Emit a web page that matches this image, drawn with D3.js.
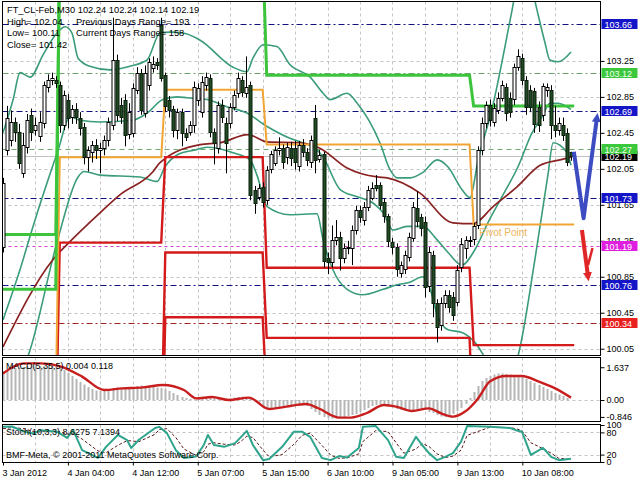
<!DOCTYPE html>
<html><head><meta charset="utf-8">
<script src="https://cdn.jsdelivr.net/npm/d3@7"></script>
<style>
body{margin:0;background:#fff}
svg{display:block}
text{font-family:"Liberation Sans",Arial,sans-serif;font-size:9px}
</style></head>
<body><svg id="c" width="640" height="480"></svg>
<script>
// ---------------- DATA ----------------
const opens=[101.18,102.26,102.37,102.57,102.46,102.01,102.29,102.65,102.48,102.41,102.56,102.96,103.04,103.04,102.98,102.54,102.82,102.62,102.71,102.62,102.51,102.18,102.24,102.32,102.26,102.28,102.37,102.54,103.26,102.76,102.82,102.43,102.45,102.93,103.12,102.67,102.98,103.17,103.24,103.65,103.09,102.82,102.71,102.48,102.68,102.45,102.46,102.54,102.82,102.68,102.98,103.06,102.46,102.28,102.76,102.56,102.56,102.74,102.89,103.04,102.89,102.98,101.82,101.74,101.85,101.71,102.04,102.12,102.26,102.28,102.18,102.28,102.28,102.09,102.32,102.24,102.12,102.62,102.15,102.21,101.06,101.02,101.26,101.29,101.06,101.17,101.17,101.37,101.59,101.48,101.63,101.73,101.87,101.87,101.68,101.52,101.24,101.18,100.89,100.93,101.07,101.29,101.62,101.51,101.46,100.74,101.09,100.56,100.32,100.56,100.65,100.63,100.57,100.95,101.17,101.25,101.26,101.43,102.26,102.56,102.76,102.57,102.71,102.84,102.96,102.84,102.82,103.18,103.28,103.04,102.93,102.91,102.74,102.65,102.93,102.93,102.54,102.48,102.54,102.45,102.24];
const highs=[101.95,102.75,102.70,102.62,102.55,102.45,102.66,102.72,102.62,102.68,103.02,103.10,103.12,103.08,103.02,102.92,102.88,102.76,102.78,102.68,102.56,102.30,102.36,102.38,102.34,102.42,102.62,103.73,103.32,102.84,102.88,102.78,103.00,103.18,103.16,103.20,103.28,103.30,103.28,103.73,103.12,102.86,102.75,102.72,102.72,102.50,102.58,103.02,103.00,103.08,103.12,103.10,102.50,102.80,102.82,102.62,102.78,102.92,103.12,103.08,103.30,103.02,101.86,101.88,101.90,102.08,102.25,102.30,102.40,102.32,102.34,102.35,102.36,102.36,102.38,102.28,102.42,102.76,102.26,102.24,101.12,101.42,101.48,101.35,101.22,101.25,101.42,101.64,101.64,101.68,101.86,101.90,101.98,101.90,101.72,101.55,101.28,101.22,101.02,101.14,101.34,101.68,101.80,101.55,101.52,101.18,101.14,100.60,100.62,100.70,100.70,100.68,100.98,101.28,101.30,101.30,101.45,102.30,102.62,102.80,102.82,102.78,102.90,103.03,103.00,102.90,103.22,103.38,103.33,103.08,102.98,102.95,102.80,103.00,103.00,102.98,102.75,102.62,102.62,102.50,102.24];
const lows=[101.12,102.20,102.30,102.35,102.05,101.95,102.22,102.36,102.42,102.35,102.50,102.90,102.98,102.95,102.45,102.48,102.50,102.55,102.55,102.42,102.10,102.02,102.12,102.16,102.00,102.20,102.30,102.48,102.58,102.55,102.30,102.38,102.40,102.88,102.65,102.62,102.92,103.12,103.15,103.02,102.68,102.62,102.40,102.38,102.30,102.36,102.42,102.45,102.75,102.62,102.92,102.40,102.10,102.22,102.56,102.00,102.50,102.70,102.84,102.85,102.84,101.70,101.55,101.70,101.62,101.65,102.00,102.08,102.20,102.05,102.10,102.08,102.04,102.02,102.18,102.08,102.06,102.00,102.12,100.95,100.88,100.95,101.20,100.92,101.00,101.10,100.98,101.32,101.45,101.42,101.58,101.70,101.80,101.60,101.45,101.18,101.10,100.85,100.84,100.88,101.02,101.24,101.40,101.30,100.62,100.68,100.40,100.12,100.25,100.50,100.45,100.36,100.52,100.90,101.05,101.18,101.20,101.38,102.20,102.50,102.52,102.52,102.66,102.80,102.58,102.62,102.76,103.14,102.98,102.65,102.68,102.45,102.46,102.58,102.85,102.38,102.40,102.42,102.36,102.08,102.14];
const closes=[101.89,102.62,102.57,102.46,102.12,102.32,102.59,102.46,102.54,102.57,102.98,103.04,103.06,103.01,102.54,102.87,102.62,102.71,102.62,102.51,102.18,102.26,102.32,102.26,102.28,102.37,102.57,103.26,102.65,102.63,102.43,102.68,102.95,103.12,102.71,103.12,103.24,103.22,103.21,103.06,102.74,102.71,102.48,102.68,102.45,102.41,102.54,102.96,102.95,103.01,103.07,102.46,102.34,102.76,102.63,102.34,102.74,102.87,103.06,102.91,102.96,101.76,101.68,101.84,101.68,102.04,102.21,102.26,102.28,102.12,102.29,102.17,102.12,102.32,102.24,102.15,102.37,102.15,102.20,101.02,101.01,101.26,101.29,101.06,101.17,101.18,101.37,101.59,101.51,101.63,101.82,101.84,101.84,101.65,101.52,101.24,101.18,100.93,100.98,101.09,101.29,101.63,101.48,101.39,100.74,101.12,100.56,100.29,100.56,100.65,100.52,100.43,100.93,101.21,101.26,101.26,101.41,102.26,102.56,102.76,102.59,102.73,102.84,102.98,102.67,102.68,103.18,103.30,103.04,102.74,102.74,102.54,102.54,102.97,102.96,102.54,102.48,102.56,102.43,102.13,102.19];

// Bollinger bands (bar index, price)
const bbUpIdx=[0,2.5,4.2,6.7,9.9,13.3,15.3,17,18.5,21.4,26.4,31.3,35.5,38.7,41.2,44.4,48.6,56.7,60.1,61.6,64.1,67.5,70.7,75.7,78.9,80.6,84.8,87.3,92.9,95.4,97.1,100.3,103.5,107,109.7,113.1,115.1,117.1,120.5,125.5,127.9,129.9,131.6,133.6,134.8,136.8,140];
const bbUp=[102.45,102.82,103.12,103.07,103.32,103.56,103.63,103.56,103.28,103.19,103.15,103.19,103.26,103.56,103.57,103.56,103.48,103.18,103.13,103.28,103.43,103.41,103.21,103.07,102.89,102.82,102.89,102.78,102.34,102.04,101.95,101.95,102.01,102.15,102.07,101.82,101.73,102.15,102.71,103.82,104.37,104.15,103.82,103.45,103.26,103.24,103.35];
const bbMidIdx=[0,4.2,7.4,13.6,16.5,19,23.9,32,35.5,39.4,42.9,45.4,50.3,55.2,60.1,65.1,70.7,73.2,77.4,78.9,83.1,87.3,91.2,93.7,96.1,99.6,103.5,107,109.7,113.1,116.3,119.5,123,126.9,130.4,132.9,134.8,136.8,140];
const bbMid=[100.37,100.93,101.41,102.26,102.63,102.59,102.57,102.59,102.67,102.82,102.85,102.84,102.82,102.74,102.67,102.52,102.39,102.35,102.26,102.18,101.82,101.74,101.67,101.56,101.37,101.41,101.41,101.26,101.12,100.98,101.15,101.45,101.74,102.07,102.45,102.63,102.78,102.78,102.71];
const bbLowIdx=[5.4,6.7,13.3,18.5,20,23.9,33.8,38,39.9,43.1,47.3,50.3,56.7,60.9,62.6,65.1,70.7,77.4,78.9,81.3,84.8,88.7,93.7,97.1,100.3,103.5,105.3,107,109.7,113.1,116.3,120,123.7,126.7,131.1,134.3,135.6,139,140];
const bbLow=[99.87,100.04,101.23,101.96,102.02,101.98,101.96,101.91,102.07,102.21,102.26,102.29,102.23,102.15,101.98,101.63,101.54,101.55,101.26,100.93,100.71,100.65,100.71,100.76,100.79,100.85,100.71,100.43,100.26,100.23,100.12,99.87,99.71,99.93,101.04,101.98,102.34,102.23,102.09];

// Moving average (maroon)
const maIdx=[0,12.3,16.5,23.9,28.8,37,38.7,48.6,53.5,60.4,65.1,73.2,78.1,84.8,92.2,94.7,102.8,110.9,115.8,120.8,126.7,132.4,137.3,140];
const maVal=[100.07,101.04,101.24,101.56,101.76,102.02,102.12,102.32,102.34,102.43,102.35,102.34,102.28,102.06,101.96,101.95,101.78,101.45,101.44,101.63,101.85,102.09,102.15,102.18];

// Daily pivot-style step levels (segments by bar index)
const segStart=[0,14,40,65,116];
const segEnd=[13,39,64,115,140.8];
const pivotLvl=[99.5,102.18,102.93,102.32,101.43];
const resA=[101.32,104.5,104.5,103.09,102.75];
const resB=[100.71,104.6,104.6,104.6,104.6];
const supA=[99.0,101.23,102.18,100.95,100.09];
const supB=[98.5,99.0,101.12,100.17,99.0];
const supC=[98.0,98.5,100.40,99.5,98.5];

// Horizontal level lines with right-axis tags
const levelValues=[103.66,103.12,102.69,102.19,102.27,101.73,101.19,100.76,100.34];
const levelKinds=['navy','green','navy','price','green2','navy','magenta','navy','red'];

// Forecast arrows
const blueIdx=[140.7,143.1,146.4], bluePrice=[102.24,101.50,102.62];
const redIdx=[142.7,144.2], redPrice=[101.37,100.85];
const redTailIdx=[144.2,145.3], redTailPrice=[100.98,101.17];

// MACD
const macdHist=[1.45,1.5,1.55,1.6,1.62,1.65,1.7,1.72,1.7,1.68,1.7,1.72,1.7,1.65,1.6,1.5,
1.35,1.2,1.05,0.9,0.78,0.65,0.55,0.48,0.45,
0.5,0.55,0.6,0.62,0.6,0.58,0.62,0.65,0.7,0.72,0.7,0.68,0.65,0.62,0.6,0.55,
0.45,0.35,0.25,0.15,0.1,0.05,0.02,0.05,
0.08,0.1,0.12,0.1,0.08,0.05,0.05,0.08,0.12,0.15,0.18,0.15,0.1,0.0,
-0.15,-0.3,-0.4,-0.42,-0.4,-0.35,-0.3,-0.28,
-0.25,-0.22,-0.2,-0.22,-0.3,-0.45,-0.6,-0.75,-0.85,
-0.9,-0.92,-0.9,-0.88,-0.85,-0.8,-0.75,-0.7,-0.6,
-0.5,-0.4,-0.3,-0.25,-0.22,-0.25,-0.3,-0.38,-0.45,
-0.5,-0.55,-0.55,-0.5,-0.45,-0.42,-0.5,
-0.6,-0.65,-0.75,-0.82,-0.85,-0.8,-0.7,-0.55,-0.4,
-0.2,0.1,0.4,0.7,0.95,1.1,1.2,1.28,1.32,
1.33,1.3,1.28,1.25,1.2,1.15,1.05,0.95,
0.85,0.75,0.65,0.55,0.45,0.35,0.28,0.2,0.1,0.004];
const macdSigIdx=[0,5.3,9.4,14.3,19.5,24.9,29.3,34.5,39.4,44.6,47.6,51.5,55.7,60.6,65.6,69.8,74.7,77.6,82.8,85.8,89.7,93.9,96.9,100.8,105,108,110.9,113.9,117.1,120,124,127.9,132.1,136.1,140];
const macdSig=[1.33,1.83,1.83,1.67,1.17,0.5,0.58,0.63,0.75,0.5,0.08,0.15,0.0,0.12,-0.45,-0.33,-0.2,-0.4,-0.88,-0.88,-0.65,-0.25,-0.33,-0.55,-0.42,-0.67,-0.83,-0.58,0.08,0.92,1.2,1.2,0.92,0.58,0.118];
const macdTicks=[1.637,0,-0.846], macdTickLabels=['1.637','0.00','-0.846'];

// Stochastic
const stochIdx=[0,2.2,5.3,7.4,9.4,13.3,15.8,17.3,19.5,23.4,25.4,28.3,30.6,31.6,33.5,37.5,38.5,40.4,42.6,44.6,47.6,49.5,50.5,52,54.5,57.2,58.7,60.1,61.6,64.1,65.6,68.8,71.7,73.7,75.7,78.6,80.8,82.8,84.8,87.7,88.7,91.9,94.9,96.9,98.8,101.8,103.3,105,107,109,110.9,112.9,114.4,120,125,126.4,127.9,130.1,133.1,135.1,137,140];
const stochMain=[95,96,82,77,86,82,65,86,32,11,41,73,59,38,60,92,95,78,32,11,15,46,73,46,41,51,68,84,46,5,8,41,82,82,68,11,5,16,12,38,95,97,59,14,11,68,46,24,5,14,24,55,97,95,92,86,82,19,38,14,5,8.63];
const stochSig=[90,93,90,82,82,83,76,76,62,30,25,45,58,57,55,75,88,90,66,35,18,28,48,52,48,46,56,70,66,32,14,20,48,72,78,45,18,10,11,22,55,85,82,52,24,35,50,42,22,12,16,32,72,94,93,90,85,52,36,24,10,7.14];
const stochTicks=[100,80,20,0], stochTickLabels=['100','80','20','0'];

// Axes labels
const priceTicks=[103.25,102.85,102.45,102.05,101.65,101.25,100.85,100.45,100.05];
const timeIdx=[0,16,32,48,64,80,96,112,128];
const timeLabels=['3 Jan 2012','4 Jan 04:00','4 Jan 12:00','5 Jan 07:00','5 Jan 15:00','6 Jan 10:00','9 Jan 05:00','9 Jan 13:00','10 Jan 08:00'];
const gridIdx=d3.range(8,140,8);

const headerLines=['FT_CL-Feb,M30  102.24 102.24 102.14 102.19','High= 102.04','Low= 100.11','Close= 101.42'];
const headerRight=['Previous Days Range= 193','Current Days Range= 158'];

// ---------------- DRAW ----------------
const svg=d3.select('#c');
const L=2.5,R=600.5;
const x=d3.scaleLinear().domain([0,140]).range([3,571]);
const y=d3.scaleLinear().domain([99.98,103.905]).range([355,2]);
const ym=d3.scaleLinear().domain([-1.05,2.15]).range([421,357]);
const ys=d3.scaleLinear().domain([0,100]).range([462,425]);
const panels={main:[1.5,355.5],macd:[357.5,421.5],stoch:[424.5,462.5]};

const defs=svg.append('defs');
Object.entries(panels).forEach(([k,[t,b]])=>{
  defs.append('clipPath').attr('id','clip-'+k).append('rect').attr('x',L).attr('y',t).attr('width',R-L).attr('height',b-t);
});
function arrowMarker(id,color){
  defs.append('marker').attr('id',id).attr('viewBox','0 0 10 10').attr('refX',5).attr('refY',5)
   .attr('markerWidth',9).attr('markerHeight',10).attr('markerUnits','userSpaceOnUse').attr('orient','auto')
   .append('path').attr('d','M0,0 L10,5 L0,10 z').attr('fill',color);
}
arrowMarker('arB','#3d4cc0');arrowMarker('arR','#e02626');

const gMain=svg.append('g').attr('clip-path','url(#clip-main)');
const gMacd=svg.append('g').attr('clip-path','url(#clip-macd)');
const gSto=svg.append('g').attr('clip-path','url(#clip-stoch)');

// grids
const gridCol='#c4c4c4';
Object.entries(panels).forEach(([k,[t,b]])=>{
  const g=k==='main'?gMain:k==='macd'?gMacd:gSto;
  g.selectAll('line.vg').data(gridIdx).enter().append('line')
   .attr('x1',d=>Math.round(x(d))+0.5).attr('x2',d=>Math.round(x(d))+0.5).attr('y1',t).attr('y2',b)
   .attr('stroke',gridCol).attr('stroke-dasharray','3,3');
});
gMain.selectAll('line.hg').data(priceTicks).enter().append('line')
 .attr('x1',L).attr('x2',R).attr('y1',d=>Math.round(y(d))+0.5).attr('y2',d=>Math.round(y(d))+0.5)
 .attr('stroke',gridCol).attr('stroke-dasharray','3,3');
gMacd.append('line').attr('x1',L).attr('x2',R).attr('y1',Math.round(ym(0))+0.5).attr('y2',Math.round(ym(0))+0.5)
 .attr('stroke',gridCol).attr('stroke-dasharray','3,3');
gSto.selectAll('line.sg').data([80,20]).enter().append('line')
 .attr('x1',L).attr('x2',R).attr('y1',d=>Math.round(ys(d))+0.5).attr('y2',d=>Math.round(ys(d))+0.5)
 .attr('stroke',gridCol).attr('stroke-dasharray','3,3');

// level lines
const levelStyle={
  navy:{line:'#101080',dash:'6,3,2,3',bg:'#1515c8',fg:'#fff'},
  green:{line:'#6aa06a',dash:'6,3,2,3',bg:'#3cc83c',fg:'#f4fff4'},
  green2:{line:'#70a870',dash:'5,4',bg:'#3cc83c',fg:'#f4fff4'},
  price:{line:'#c0c0c0',dash:null,bg:'#000',fg:'#fff'},
  magenta:{line:'#d040d0',dash:'3,3',bg:'#e01ee0',fg:'#fff'},
  red:{line:'#a02424',dash:'6,3,2,3',bg:'#e82020',fg:'#fff'}
};
levelValues.forEach((v,i)=>{
  const s=levelStyle[levelKinds[i]];
  const yy=Math.round(y(v))+0.5;
  const ln=gMain.append('line').attr('x1',L).attr('x2',R).attr('y1',yy).attr('y2',yy).attr('stroke',s.line).attr('stroke-width',1);
  if(s.dash) ln.attr('stroke-dasharray',s.dash);
});

// bollinger + MA
const lineGen=d3.line().curve(d3.curveMonotoneX);
function drawXY(g,xs,vs,sc,color,w,dash){
  const p=g.append('path').attr('d',lineGen(xs.map((d,i)=>[x(d),sc(vs[i])]))).attr('fill','none')
    .attr('stroke',color).attr('stroke-width',w).attr('stroke-linejoin','round');
  if(dash)p.attr('stroke-dasharray',dash);
  return p;
}
const teal='#3a9c78';
drawXY(gMain,bbUpIdx,bbUp,y,teal,1.6);
drawXY(gMain,bbMidIdx,bbMid,y,teal,1.6);
drawXY(gMain,bbLowIdx,bbLow,y,teal,1.6);
drawXY(gMain,maIdx,maVal,y,'#8a2222',1.7);

// step levels
function stepPts(vals){
  const pts=[];
  vals.forEach((v,i)=>{pts.push([x(segStart[i]),y(v)]);pts.push([x(segEnd[i]),y(v)]);});
  return pts;
}
const stepLine=d3.line();
[[supC,'#d41a1a',2.4],[supB,'#d41a1a',2.4],[supA,'#d41a1a',2.4],[pivotLvl,'#f2a533',2],[resB,'#3cc43c',3],[resA,'#3cc43c',3]]
 .forEach(([vals,c,w])=>{
  gMain.append('path').attr('d',stepLine(stepPts(vals))).attr('fill','none').attr('stroke',c).attr('stroke-width',w);
 });
gMain.append('text').attr('x',x(117.4)).attr('y',y(pivotLvl[4])+11).attr('fill','#eeb25a').style('font-size','10px').text('Pivot Point');

// candles
const candles=gMain.append('g');
opens.forEach((o,i)=>{
  const c=closes[i],cx=Math.round(x(i))+0.5;
  candles.append('line').attr('x1',cx).attr('x2',cx).attr('y1',y(highs[i])).attr('y2',y(lows[i])).attr('stroke','#000').attr('stroke-width',1);
  const top=y(Math.max(o,c)),bot=y(Math.min(o,c));
  const bull=c>=o;
  candles.append('rect').attr('x',cx-1.5).attr('y',Math.round(top)+0.5).attr('width',3).attr('height',Math.max(1,Math.round(bot-top)))
   .attr('fill',bull?'#fff':'#1e4a24').attr('stroke',bull?'#000':'#0c1f0c').attr('stroke-width',1);
});

// forecast arrows
gMain.append('path').attr('d',d3.line()(blueIdx.map((d,i)=>[x(d),y(bluePrice[i])]))).attr('fill','none')
 .attr('stroke','#3d4cc0').attr('stroke-width',4).attr('stroke-linejoin','round').attr('marker-end','url(#arB)');
gMain.append('path').attr('d',d3.line()(redIdx.map((d,i)=>[x(d),y(redPrice[i])]))).attr('fill','none')
 .attr('stroke','#e02626').attr('stroke-width',4).attr('stroke-linejoin','round').attr('marker-end','url(#arR)');
gMain.append('path').attr('d',d3.line()(redTailIdx.map((d,i)=>[x(d),y(redTailPrice[i])]))).attr('fill','none')
 .attr('stroke','#e02626').attr('stroke-width',2.5);

// MACD
gMacd.selectAll('line.h').data(macdHist).enter().append('line')
 .attr('x1',(d,i)=>Math.round(x(i))+0.5).attr('x2',(d,i)=>Math.round(x(i))+0.5)
 .attr('y1',ym(0)).attr('y2',d=>ym(d)).attr('stroke','#b6b6b6').attr('stroke-width',2);
drawXY(gMacd,macdSigIdx,macdSig,ym,'#c81e1e',2.4);

// Stoch
const linLine=d3.line();
gSto.append('path').attr('d',linLine(stochIdx.map((d,i)=>[x(d),ys(stochSig[i])]))).attr('fill','none')
 .attr('stroke','#5a1a1a').attr('stroke-width',1).attr('stroke-dasharray','3,2');
gSto.append('path').attr('d',linLine(stochIdx.map((d,i)=>[x(d),ys(stochMain[i])]))).attr('fill','none')
 .attr('stroke','#2fa48c').attr('stroke-width',2).attr('stroke-linejoin','round');

// frames
Object.values(panels).forEach(([t,b])=>{
  svg.append('rect').attr('x',L).attr('y',t).attr('width',R-L).attr('height',b-t).attr('fill','none').attr('stroke','#000').attr('stroke-width',1);
});

// axes
function styleAxis(g){g.select('.domain').remove();g.selectAll('text').attr('fill','#000').style('font-size','9px');g.selectAll('line').attr('stroke','#000');}
svg.append('g').attr('transform',`translate(${R},0)`)
 .call(d3.axisRight(y).tickValues(priceTicks).tickSize(4).tickPadding(2).tickFormat(d3.format('.2f'))).call(styleAxis);
svg.append('g').attr('transform',`translate(${R},0)`)
 .call(d3.axisRight(ym).tickValues(macdTicks).tickSize(4).tickPadding(2).tickFormat((d,i)=>macdTickLabels[i])).call(styleAxis);
svg.append('g').attr('transform',`translate(${R},0)`)
 .call(d3.axisRight(ys).tickValues(stochTicks).tickSize(4).tickPadding(2).tickFormat((d,i)=>stochTickLabels[i])).call(styleAxis);
const xa=svg.append('g').attr('transform','translate(0,462.5)')
 .call(d3.axisBottom(x).tickValues(timeIdx).tickSize(3).tickPadding(4).tickFormat((d,i)=>timeLabels[i])).call(styleAxis);
xa.selectAll('text').attr('text-anchor','start').attr('dx','-1');

// level tags (price line first so green tag overlays it)
levelValues.forEach((v,i)=>{
  const s=levelStyle[levelKinds[i]];
  const yy=Math.round(y(v));
  const g=svg.append('g');
  g.append('rect').attr('x',R+1).attr('y',yy-5).attr('width',36).attr('height',10).attr('fill',s.bg);
  g.append('text').attr('x',R+4).attr('y',yy+3.5).attr('fill',s.fg).style('font-size','9px').text(v.toFixed(2));
});

// texts
headerLines.forEach((t,i)=>svg.append('text').attr('x',7).attr('y',13+i*11.7).attr('fill','#000').style('font-size','9.3px').text(t));
headerRight.forEach((t,i)=>svg.append('text').attr('x',76).attr('y',24.7+i*11.7).attr('fill','#000').style('font-size','9.3px').text(t));
svg.append('text').attr('x',6).attr('y',369).attr('fill','#000').text('MACD(5,35,5) 0.004 0.118');
svg.append('text').attr('x',6).attr('y',435).attr('fill','#000').text('Stoch(10,3,3) 8.6275 7.1394');
svg.append('text').attr('x',6).attr('y',458).attr('fill','#000').text('BMF-Meta, © 2001-2011 MetaQuotes Software Corp.');
</script></body></html>
